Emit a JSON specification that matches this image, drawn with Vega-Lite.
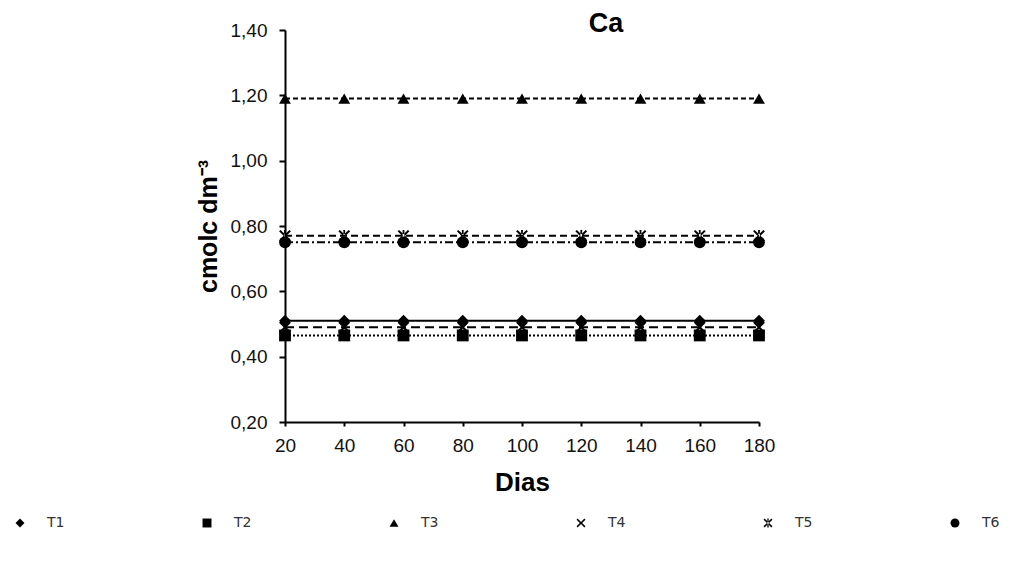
{
  "$schema": "https://vega.github.io/schema/vega-lite/v6.json",
  "width": 474,
  "height": 392,
  "autosize": {"type": "none"},
  "padding": {"left": 285, "top": 30, "right": 270, "bottom": 140},
  "background": "white",
  "title": {"text": "Ca", "fontSize": 27, "fontWeight": "bold", "font": "Liberation Sans", "color": "black", "anchor": "middle", "dx": 84, "dy": 38, "offset": 0, "baseline": "alphabetic"},
  "config": {
    "view": {"stroke": null},
    "font": "Liberation Sans"
  },
  "resolve": {"legend": {"shape": "independent", "strokeDash": "independent"}},
  "data": {"values": [
    {"dia": 20, "serie": "T1", "valor": 0.51}, {"dia": 40, "serie": "T1", "valor": 0.51}, {"dia": 60, "serie": "T1", "valor": 0.51}, {"dia": 80, "serie": "T1", "valor": 0.51}, {"dia": 100, "serie": "T1", "valor": 0.51}, {"dia": 120, "serie": "T1", "valor": 0.51}, {"dia": 140, "serie": "T1", "valor": 0.51}, {"dia": 160, "serie": "T1", "valor": 0.51}, {"dia": 180, "serie": "T1", "valor": 0.51},
    {"dia": 20, "serie": "T2", "valor": 0.465}, {"dia": 40, "serie": "T2", "valor": 0.465}, {"dia": 60, "serie": "T2", "valor": 0.465}, {"dia": 80, "serie": "T2", "valor": 0.465}, {"dia": 100, "serie": "T2", "valor": 0.465}, {"dia": 120, "serie": "T2", "valor": 0.465}, {"dia": 140, "serie": "T2", "valor": 0.465}, {"dia": 160, "serie": "T2", "valor": 0.465}, {"dia": 180, "serie": "T2", "valor": 0.465},
    {"dia": 20, "serie": "T3", "valor": 1.19}, {"dia": 40, "serie": "T3", "valor": 1.19}, {"dia": 60, "serie": "T3", "valor": 1.19}, {"dia": 80, "serie": "T3", "valor": 1.19}, {"dia": 100, "serie": "T3", "valor": 1.19}, {"dia": 120, "serie": "T3", "valor": 1.19}, {"dia": 140, "serie": "T3", "valor": 1.19}, {"dia": 160, "serie": "T3", "valor": 1.19}, {"dia": 180, "serie": "T3", "valor": 1.19},
    {"dia": 20, "serie": "T4", "valor": 0.49}, {"dia": 40, "serie": "T4", "valor": 0.49}, {"dia": 60, "serie": "T4", "valor": 0.49}, {"dia": 80, "serie": "T4", "valor": 0.49}, {"dia": 100, "serie": "T4", "valor": 0.49}, {"dia": 120, "serie": "T4", "valor": 0.49}, {"dia": 140, "serie": "T4", "valor": 0.49}, {"dia": 160, "serie": "T4", "valor": 0.49}, {"dia": 180, "serie": "T4", "valor": 0.49},
    {"dia": 20, "serie": "T5", "valor": 0.77}, {"dia": 40, "serie": "T5", "valor": 0.77}, {"dia": 60, "serie": "T5", "valor": 0.77}, {"dia": 80, "serie": "T5", "valor": 0.77}, {"dia": 100, "serie": "T5", "valor": 0.77}, {"dia": 120, "serie": "T5", "valor": 0.77}, {"dia": 140, "serie": "T5", "valor": 0.77}, {"dia": 160, "serie": "T5", "valor": 0.77}, {"dia": 180, "serie": "T5", "valor": 0.77},
    {"dia": 20, "serie": "T6", "valor": 0.75}, {"dia": 40, "serie": "T6", "valor": 0.75}, {"dia": 60, "serie": "T6", "valor": 0.75}, {"dia": 80, "serie": "T6", "valor": 0.75}, {"dia": 100, "serie": "T6", "valor": 0.75}, {"dia": 120, "serie": "T6", "valor": 0.75}, {"dia": 140, "serie": "T6", "valor": 0.75}, {"dia": 160, "serie": "T6", "valor": 0.75}, {"dia": 180, "serie": "T6", "valor": 0.75}
  ]},
  "encoding": {
    "x": {"field": "dia", "type": "quantitative", "scale": {"domain": [20, 180], "nice": false, "zero": false}, "axis": {"values": [20, 40, 60, 80, 100, 120, 140, 160, 180], "labelFlush": false, "title": "Dias", "titlePadding": 14, "labelPadding": 10, "grid": false, "domainColor": "black", "domainWidth": 2, "tickColor": "black", "tickWidth": 2, "tickSize": 4, "labelFontSize": 19, "labelColor": "#111", "labelFont": "Liberation Sans", "titleFontSize": 26, "titleFontWeight": "bold", "titleColor": "black", "titleFont": "Liberation Sans"}},
    "y": {"field": "valor", "type": "quantitative", "scale": {"domain": [0.2, 1.4], "nice": false, "zero": false}, "axis": {"values": [0.2, 0.4, 0.6, 0.8, 1.0, 1.2, 1.4], "labelExpr": "replace(format(datum.value, '.2f'), '.', ',')", "title": "cmolc dm⁻³", "titlePadding": 9, "tickSize": 6, "labelPadding": 12, "labelFlush": false, "grid": false, "domainColor": "black", "domainWidth": 2, "tickColor": "black", "tickWidth": 2, "labelFontSize": 19, "labelColor": "#111", "labelFont": "Liberation Sans", "titleFontSize": 25, "titleFontWeight": "bold", "titleColor": "black", "titleFont": "Liberation Sans"}}
  },
  "layer": [
    {
      "mark": {"type": "line", "color": "black", "strokeWidth": 2},
      "encoding": {
        "strokeDash": {"field": "serie", "type": "nominal", "legend": null, "scale": {"domain": ["T1", "T2", "T3", "T4", "T5", "T6"], "range": [[1, 0], [2, 2], [5, 3], [9, 5], [7, 4], [8, 3, 2, 3]]}}
      }
    },
    {
      "mark": {"type": "point", "filled": true, "color": "black", "opacity": 1, "size": 140},
      "encoding": {
        "shape": {"field": "serie", "type": "nominal", "scale": {"domain": ["T1", "T2", "T3", "T4", "T5", "T6"], "range": ["diamond", "square", "triangle-up", "M-1,-0.75L-0.75,-1L0,-0.25L0.75,-1L1,-0.75L0.25,0L1,0.75L0.75,1L0,0.25L-0.75,1L-1,0.75L-0.25,0Z", "M-1,-0.75L-0.75,-1L0,-0.25L0.75,-1L1,-0.75L0.25,0L1,0.75L0.75,1L0,0.25L-0.75,1L-1,0.75L-0.25,0ZM-0.15,-1L-0.15,1L0.15,1L0.15,-1Z", "circle"]},
          "legend": {"orient": "none", "legendX": -272, "legendY": 486, "direction": "horizontal", "columns": 6, "columnPadding": 135, "gridAlign": "all", "title": null, "symbolSize": 80, "symbolFillColor": "black", "symbolStrokeWidth": 0, "labelFontSize": 14, "labelFont": "DejaVu Sans", "labelColor": "#333", "labelOffset": 20}},
        "order": {"field": "serie", "sort": "descending"}
      }
    }
  ]
}
